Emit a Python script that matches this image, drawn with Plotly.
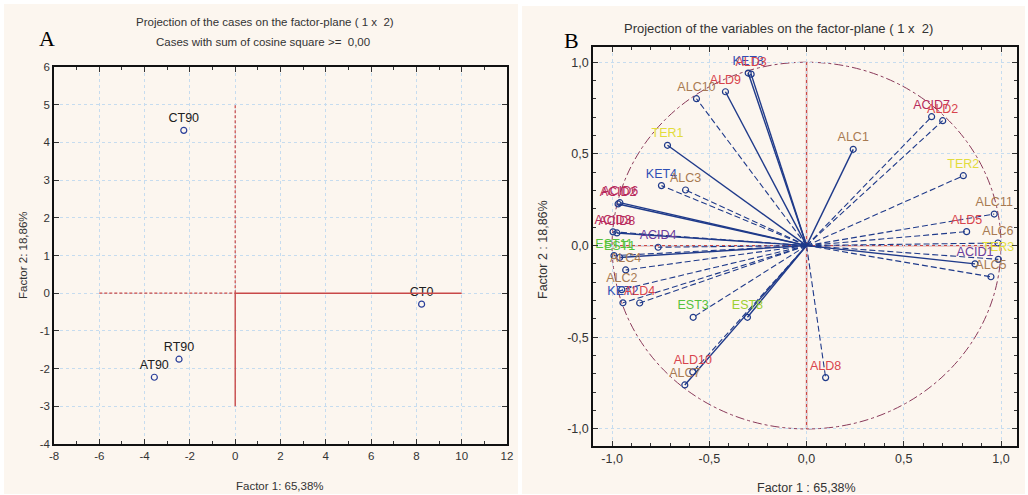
import plotly.graph_objects as go

# ---------------- DATA ----------------
# Panel A: cases
case_names = ["CT90", "CT0", "RT90", "AT90"]
case_f1 = [-2.27, 8.23, -2.48, -3.57]
case_f2 = [4.32, -0.29, -1.75, -2.23]

# Panel B: variables (factor coordinates)
var_names = ["KET8", "ALD3", "ALD9", "ALC10", "TER1", "KET4", "ALC3", "ACID2", "ACID6",
             "ACID8", "ACID3", "ACID4", "EST1", "EST11", "ALC4", "ALC2", "KET2", "ALD4",
             "EST3", "EST8", "ALD10", "ALC7", "ALD8", "ALC1", "ACID7", "ALD2", "TER2",
             "ALC11", "ALD5", "ALC6", "TER3", "ACID1", "ALC5"]
var_f1 = [-0.300, -0.285, -0.417, -0.566, -0.715, -0.746, -0.622, -0.969, -0.960,
          -0.975, -0.995, -0.763, -0.961, -0.990, -0.930, -0.950, -0.944, -0.858,
          -0.583, -0.304, -0.585, -0.626, 0.098, 0.240, 0.643, 0.700, 0.806,
          0.965, 0.823, 0.984, 0.986, 0.866, 0.948]
var_f2 = [0.941, 0.935, 0.839, 0.801, 0.547, 0.327, 0.303, 0.227, 0.234,
          0.069, 0.075, -0.009, -0.065, -0.055, -0.133, -0.240, -0.312, -0.313,
          -0.391, -0.391, -0.689, -0.760, -0.720, 0.525, 0.703, 0.681, 0.381,
          0.172, 0.076, 0.014, -0.075, -0.100, -0.170]
var_group = ["KET", "ALD", "ALD", "ALC", "TER", "KET", "ALC", "ACID", "ACID",
             "ACID", "ACID", "ACIDp", "EST", "EST", "ALC", "ALC", "KET", "ALD",
             "EST", "ESTy", "ALD", "ALC", "ALD", "ALC", "ACID", "ALD", "TER",
             "ALC", "ALD", "ALC", "TER", "ACIDp", "ALC"]

x_ticks_A = [-8, -6, -4, -2, 0, 2, 4, 6, 8, 10, 12]
y_ticks_A = [-4, -3, -2, -1, 0, 1, 2, 3, 4, 5, 6]
ticks_B = [-1.0, -0.5, 0.0, 0.5, 1.0]
tick_text_B = ["-1,0", "-0,5", "0,0", "0,5", "1,0"]

# ---------------- STYLE ----------------
W, H = 1028, 495
def px(x): return x / W
def py(y): return 1 - y / H

group_color = {"KET": "#2f4fb5", "ALD": "#d8444c", "ALC": "#a87a52", "ACID": "#b82a5c",
               "ACIDp": "#6a3c9c", "EST": "#55c23c", "ESTy": "#9ccf30", "TER": "#e2dc3c"}
solid_lines = {"KET8", "ALD3", "ALD9", "TER1", "ACID2", "ACID6", "ACID8", "EST1",
               "EST8", "ALC7", "ALC1", "ACID1"}
LINE_COL = "#1f3a8a"
REF_COL = "#c84848"
GRID_COL = "#c6dcef"
FONT = "Liberation Sans, Arial, sans-serif"

fig = go.Figure()

# ---- Panel A ----
fig.add_trace(go.Scatter(
    x=case_f1, y=case_f2, text=case_names, mode="markers+text",
    textposition="top center", textfont=dict(family=FONT, size=12.5, color="#202020"),
    marker=dict(symbol="circle-open", size=6, color="#2a3f9a", line=dict(width=1.2)),
    xaxis="x", yaxis="y", showlegend=False, cliponaxis=False))

# ---- Panel B lines ----
sx, sy, dx, dy = [], [], [], []
for n, a, b in zip(var_names, var_f1, var_f2):
    if n in solid_lines:
        sx += [0, a, None]; sy += [0, b, None]
    else:
        dx += [0, a, None]; dy += [0, b, None]
fig.add_trace(go.Scatter(x=dx, y=dy, mode="lines", line=dict(color=LINE_COL, width=1.1, dash="6px,3px"),
                         xaxis="x2", yaxis="y2", showlegend=False, hoverinfo="skip"))
fig.add_trace(go.Scatter(x=sx, y=sy, mode="lines", line=dict(color=LINE_COL, width=1.4),
                         xaxis="x2", yaxis="y2", showlegend=False, hoverinfo="skip"))
fig.add_trace(go.Scatter(
    x=var_f1, y=var_f2, text=var_names, mode="markers+text", textposition="top center",
    textfont=dict(family=FONT, size=12.5, color=[group_color[g] for g in var_group]),
    marker=dict(symbol="circle-open", size=6, color=LINE_COL, line=dict(width=1.2)),
    xaxis="x2", yaxis="y2", showlegend=False, cliponaxis=False))

shapes = [
    # panel backgrounds
    dict(type="rect", xref="paper", yref="paper", x0=px(4), x1=px(518), y0=py(494), y1=py(4),
         fillcolor="#fcf6ef", line=dict(width=0), layer="below"),
    dict(type="rect", xref="paper", yref="paper", x0=px(522), x1=px(1025), y0=py(494), y1=py(6),
         fillcolor="#fcf6ef", line=dict(width=0), layer="below"),
    # panel A reference lines
    dict(type="line", xref="x", yref="y", x0=-6, x1=0, y0=0, y1=0, line=dict(color=REF_COL, width=1.2, dash="3px,2px")),
    dict(type="line", xref="x", yref="y", x0=0, x1=10, y0=0, y1=0, line=dict(color=REF_COL, width=1.4)),
    dict(type="line", xref="x", yref="y", x0=0, x1=0, y0=0, y1=5, line=dict(color=REF_COL, width=1.2, dash="3px,2px")),
    dict(type="line", xref="x", yref="y", x0=0, x1=0, y0=-3, y1=0, line=dict(color=REF_COL, width=1.4)),
    # panel B circle and axes
    dict(type="circle", xref="x2", yref="y2", x0=-1, x1=1, y0=-1, y1=1,
         line=dict(color="#8a3a5a", width=1, dash="dashdot"), layer="below"),
    dict(type="line", xref="x2", yref="y2", x0=-1, x1=1, y0=0, y1=0, line=dict(color=REF_COL, width=1.4), layer="below"),
    dict(type="line", xref="x2", yref="y2", x0=0, x1=0, y0=-1, y1=1, line=dict(color=REF_COL, width=1.4), layer="below"),
]

ax_common = dict(showline=True, linecolor="#111", linewidth=1.5, mirror="ticks", ticks="inside",
                 ticklen=5, tickcolor="#333", zeroline=False, showgrid=True, gridcolor=GRID_COL,
                 griddash="dot", gridwidth=1, automargin=False,
                 tickfont=dict(family=FONT, size=11.5, color="#333"))

annotations = [
    dict(text="Projection of the cases on the factor-plane ( 1 x  2)", x=px(265), y=py(22),
         font=dict(family=FONT, size=11.5, color="#333")),
    dict(text="Cases with sum of cosine square >=  0,00", x=px(263), y=py(42),
         font=dict(family=FONT, size=11.5, color="#333")),
    dict(text="A", x=px(47), y=py(39), font=dict(family="Liberation Serif, serif", size=22, color="#000")),
    dict(text="Projection of the variables on the factor-plane ( 1 x  2)", x=px(778), y=py(28),
         font=dict(family=FONT, size=13, color="#333")),
    dict(text="B", x=px(571), y=py(41), font=dict(family="Liberation Serif, serif", size=22, color="#000")),
    dict(text="Factor 1: 65,38%", x=px(280), y=py(486), font=dict(family=FONT, size=11.5, color="#333")),
    dict(text="Factor 2: 18,86%", x=px(23), y=py(255), textangle=-90, font=dict(family=FONT, size=11.5, color="#333")),
    dict(text="Factor 1 : 65,38%", x=px(806), y=py(488), font=dict(family=FONT, size=12.5, color="#333")),
    dict(text="Factor 2 : 18,86%", x=px(543), y=py(250), textangle=-90, font=dict(family=FONT, size=12.5, color="#333")),
]
for a in annotations:
    a.update(xref="paper", yref="paper", showarrow=False, xanchor="center", yanchor="middle")

fig.update_layout(
    width=W, height=H, margin=dict(l=0, r=0, t=0, b=0, pad=0),
    paper_bgcolor="white", plot_bgcolor="white", showlegend=False,
    shapes=shapes, annotations=annotations,
    xaxis=dict(domain=[px(54), px(507)], range=[-8, 12], tickvals=x_ticks_A,
               ticktext=[str(v) for v in x_ticks_A], anchor="y",
               minor=dict(dtick=1, ticklen=3, ticks="inside", showgrid=False), **ax_common),
    yaxis=dict(domain=[py(444), py(67)], range=[-4, 6], tickvals=y_ticks_A,
               ticktext=[str(v) for v in y_ticks_A], anchor="x", **ax_common),
    xaxis2=dict(domain=[px(593), px(1017)], range=[-1.098, 1.082], tickvals=ticks_B, ticktext=tick_text_B,
                anchor="y2", minor=dict(dtick=0.1, ticklen=3, ticks="inside", showgrid=False), **ax_common),
    yaxis2=dict(domain=[py(446), py(47)], range=[-1.093, 1.083], tickvals=ticks_B, ticktext=tick_text_B,
                anchor="x2", minor=dict(dtick=0.1, ticklen=3, ticks="inside", showgrid=False), **ax_common),
)
fig.update_xaxes(tickfont=dict(size=12.5), selector=dict(anchor="y2"))
fig.update_yaxes(tickfont=dict(size=12.5), selector=dict(anchor="x2"))

fig.write_html("out.html", config={"displayModeBar": False},
               post_script="document.body.style.margin='0';document.body.style.overflow='hidden';")
